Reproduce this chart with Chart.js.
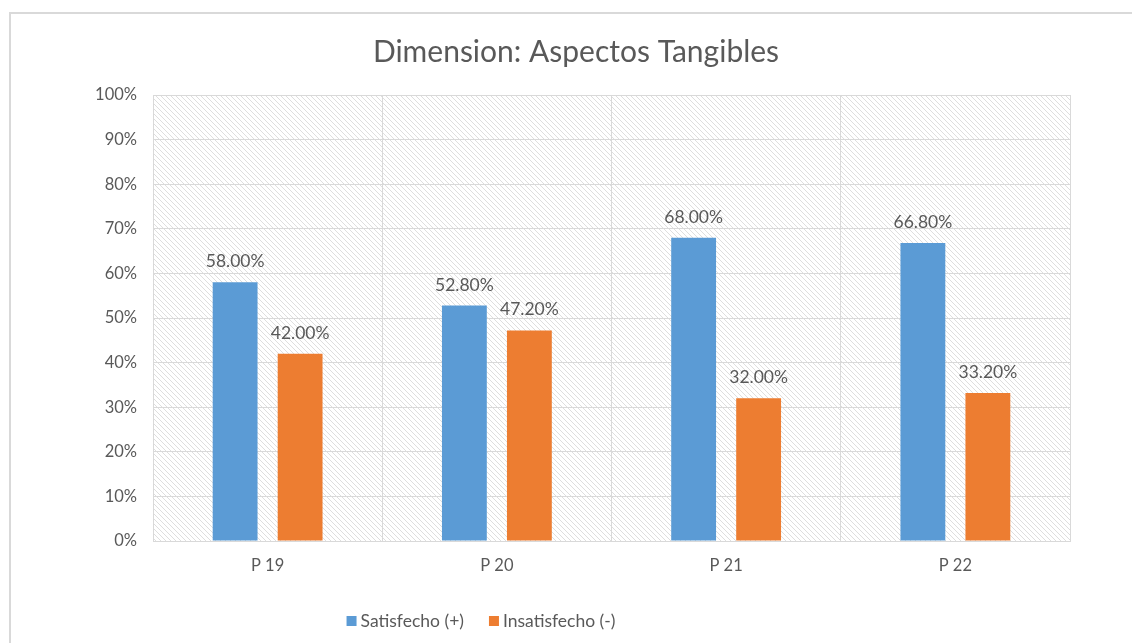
<!DOCTYPE html>
<html>
<head>
<meta charset="utf-8">
<script src="https://cdn.jsdelivr.net/npm/chart.js@4/dist/chart.umd.min.js"></script>
<style>
  html, body { margin: 0; padding: 0; background: #ffffff; overflow: hidden; }
  #wrap { position: relative; width: 1132px; height: 643px; }
  #frame { position: absolute; left: 9px; top: 12px; width: 1200px; height: 700px;
           border: 2px solid #d9d9d9; box-sizing: border-box; }
  #c { position: absolute; left: 0; top: 0; }
</style>
</head>
<body>
<div id="wrap">
  <div id="frame"></div>
  <canvas id="c" width="1132" height="643"></canvas>
</div>
<script>
// Survey results per question
const categories = ['P 19', 'P 20', 'P 21', 'P 22'];
const satisfecho = [58.0, 52.8, 68.0, 66.8];
const insatisfecho = [42.0, 47.2, 32.0, 33.2];
const yTicks = [0, 10, 20, 30, 40, 50, 60, 70, 80, 90, 100];
const titleText = 'Dimension: Aspectos Tangibles';

const FONT = 'Lato, "Open Sans", sans-serif';
const TEXT = '#595959';
const GRID = '#d9d9d9';

// Light downward-diagonal hatch used behind the plot
function makeHatch() {
  const p = document.createElement('canvas');
  p.width = 5; p.height = 5;
  const g = p.getContext('2d');
  g.fillStyle = '#ffffff';
  g.fillRect(0, 0, 5, 5);
  g.fillStyle = '#dedede';
  for (let i = 0; i < 5; i++) g.fillRect(i, i, 1, 1);
  return g.createPattern(p, 'repeat');
}

const hatchBackground = {
  id: 'hatchBackground',
  beforeDraw(chart) {
    const { ctx, chartArea: a } = chart;
    ctx.save();
    ctx.fillStyle = makeHatch();
    ctx.fillRect(a.left, a.top, a.right - a.left, a.bottom - a.top);
    ctx.restore();
  }
};

const titleAndLegend = {
  id: 'titleAndLegend',
  afterDraw(chart) {
    const { ctx } = chart;
    ctx.save();
    // title
    ctx.fillStyle = TEXT;
    ctx.font = '30px ' + FONT;
    ctx.textAlign = 'center';
    ctx.textBaseline = 'middle';
    ctx.fillText(titleText, 576, 52);
    // legend
    ctx.font = '17.5px ' + FONT;
    ctx.textAlign = 'left';
    const box = 10, gap = 4, itemGap = 25;
    const items = chart.data.datasets.map(ds => ({
      label: ds.label, color: ds.backgroundColor,
      w: box + gap + ctx.measureText(ds.label).width
    }));
    const total = items.reduce((s, it) => s + it.w, 0) + itemGap * (items.length - 1);
    let x = 481 - total / 2;
    const y = 621;
    items.forEach(it => {
      ctx.fillStyle = it.color;
      ctx.fillRect(x, y - box / 2, box, box);
      ctx.fillStyle = TEXT;
      ctx.fillText(it.label, x + box + gap, y);
      x += it.w + itemGap;
    });
    ctx.restore();
  }
};

const valueLabels = {
  id: 'valueLabels',
  afterDatasetsDraw(chart) {
    const { ctx } = chart;
    ctx.save();
    ctx.fillStyle = TEXT;
    ctx.font = '17.5px ' + FONT;
    ctx.textAlign = 'center';
    ctx.textBaseline = 'alphabetic';
    chart.data.datasets.forEach((ds, di) => {
      chart.getDatasetMeta(di).data.forEach((el, i) => {
        ctx.fillText(ds.data[i].toFixed(2) + '%', el.x, el.y - 15);
      });
    });
    ctx.restore();
  }
};

new Chart(document.getElementById('c'), {
  type: 'bar',
  data: {
    labels: categories,
    datasets: [
      { label: 'Satisfecho (+)', data: satisfecho, backgroundColor: '#5b9bd5',
        barPercentage: 0.69, categoryPercentage: 0.567 },
      { label: 'Insatisfecho (-)', data: insatisfecho, backgroundColor: '#ed7d31',
        barPercentage: 0.69, categoryPercentage: 0.567 }
    ]
  },
  options: {
    responsive: false,
    animation: false,
    layout: { padding: { left: 93, right: 62, top: 95, bottom: 62 } },
    plugins: {
      legend: { display: false },
      title: { display: false },
      tooltip: { enabled: false }
    },
    scales: {
      x: {
        grid: { color: GRID, lineWidth: 1, drawTicks: false, offset: true },
        border: { color: GRID, width: 1 },
        ticks: { color: TEXT, font: { family: FONT, size: 16.5 }, padding: 15 },
        afterFit(scale) { scale.height = 40; }
      },
      y: {
        min: 0, max: 100,
        afterBuildTicks(scale) { scale.ticks = yTicks.map(v => ({ value: v })); },
        grid: { color: GRID, lineWidth: 1, drawTicks: false },
        border: { color: GRID, width: 1 },
        ticks: { color: TEXT, font: { family: FONT, size: 16.5 }, padding: 16,
                 callback: v => v + '%' },
        afterFit(scale) { scale.width = 60; }
      }
    }
  },
  plugins: [hatchBackground, valueLabels, titleAndLegend]
});
</script>
</body>
</html>
